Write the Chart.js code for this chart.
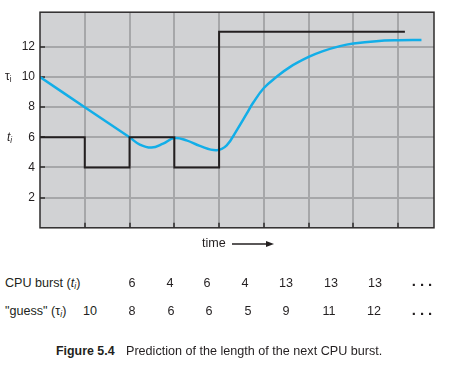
<!DOCTYPE html>
<html><head><meta charset="utf-8">
<script src="https://cdn.jsdelivr.net/npm/chart.js"></script>
<style>
html,body{margin:0;padding:0;background:#fff;}
#wrap{position:relative;width:454px;height:366px;overflow:hidden;font-family:"Liberation Sans",Arial,Helvetica,sans-serif;color:#231f20;}
#c{position:absolute;left:0;top:0;}
.a{position:absolute;white-space:nowrap;line-height:1;}
.m{transform:translate(-50%,-50%);}
.l{transform:translate(0,-50%);}
.s{font-size:12.6px;}
sub{font-size:68%;vertical-align:-0.3em;line-height:0;}
</style></head>
<body>
<div id="wrap">
<canvas id="c" width="454" height="240"></canvas>
</div>
<script>
// ---- data ----
const burstTimes = [0, 1, 2, 3, 4, 5, 6];
const bursts = [6, 4, 6, 4, 13, 13, 13];
const burstLineEnd = 8.15;
const guesses = [10, 8, 6, 6, 5, 9, 11, 12];
const curveX = [0, 1, 2, 2.23, 2.49, 2.75, 3, 3.27, 3.57, 3.94, 4.17, 4.39, 4.61, 4.76, 5, 5.28, 5.58, 6, 6.32, 6.7, 7, 7.51, 8, 8.52];
const curveY = [10, 8, 6.0, 5.52, 5.32, 5.58, 5.95, 5.8, 5.43, 5.15, 5.47, 6.45, 7.54, 8.29, 9.27, 10.0, 10.66, 11.33, 11.72, 12.05, 12.22, 12.38, 12.44, 12.46];
const yTicks = [2, 4, 6, 8, 10, 12];
const xTicks = [1, 2, 3, 4, 5, 6, 7, 8];
const rowLabelBurst = 'CPU burst (<i>t<sub>i</sub></i>)';
const rowLabelGuess = '"guess" (τ<sub><i>i</i></sub>)';
const xTitle = 'time';
const captionNum = 'Figure 5.4';
const captionText = 'Prediction of the length of the next CPU burst.';

// ---- layout (positions only) ----
const burstCols = [132, 170, 207, 245, 286, 331, 375];
const guessCols = [90, 132, 171, 209, 248, 286, 329, 374];
const dotsX = 422;

const burstPts = burstTimes.map((t, i) => ({x: t, y: bursts[i]}));
burstPts.push({x: burstLineEnd, y: bursts[bursts.length - 1]});
const curvePts = curveX.map((x, i) => ({x: x, y: curveY[i]}));

const frame = {
  id: 'frame',
  beforeDraw(chart) {
    const {ctx, chartArea: a} = chart;
    ctx.save();
    ctx.fillStyle = '#d1d2d4';
    ctx.fillRect(a.left, a.top, a.right - a.left, a.bottom - a.top);
    ctx.restore();
  },
  beforeDatasetsDraw(chart) {
    const {ctx, chartArea: a, scales} = chart;
    ctx.save();
    ctx.strokeStyle = '#2e2c2d';
    ctx.lineWidth = 1.5;
    ctx.beginPath();
    yTicks.forEach(v => { const y = Math.round(scales.y.getPixelForValue(v)); ctx.moveTo(a.left, y); ctx.lineTo(a.left + 5, y); });
    xTicks.forEach(v => { const x = Math.round(scales.x.getPixelForValue(v)); ctx.moveTo(x, a.bottom); ctx.lineTo(x, a.bottom - 5); });
    ctx.stroke();
    ctx.restore();
  },
  afterDraw(chart) {
    const {ctx, chartArea: a} = chart;
    ctx.save();
    ctx.strokeStyle = '#2e2c2d';
    ctx.lineWidth = 1.5;
    ctx.strokeRect(a.left, a.top, a.right - a.left, a.bottom - a.top);
    ctx.restore();
  }
};

new Chart(document.getElementById('c'), {
  type: 'scatter',
  data: {
    datasets: [
      {data: burstPts, showLine: true, stepped: 'before', borderColor: '#231f20', borderWidth: 2, pointRadius: 0, fill: false},
      {data: curvePts, showLine: true, tension: 0.4, borderColor: '#12aee8', borderWidth: 2.5, pointRadius: 0, fill: false}
    ]
  },
  options: {
    responsive: false,
    animation: false,
    layout: {padding: {left: 0, top: 10, right: 20, bottom: 0}},
    plugins: {legend: {display: false}, tooltip: {enabled: false}},
    scales: {
      x: {
        type: 'linear', min: 0, max: 8.8,
        afterBuildTicks: s => { s.ticks = xTicks.map(v => ({value: v})); },
        afterFit: s => { s.height = 11; },
        ticks: {display: false},
        grid: {color: '#a6a7a9', lineWidth: 2, drawTicks: false},
        border: {display: false}
      },
      y: {
        type: 'linear', min: 0, max: 14.3,
        afterBuildTicks: s => { s.ticks = yTicks.map(v => ({value: v})); },
        afterFit: s => { s.width = 40; },
        ticks: {padding: 5, color: '#231f20', font: {family: '"Liberation Sans", Arial, sans-serif', size: 12}},
        grid: {color: '#a6a7a9', lineWidth: 2, drawTicks: false},
        border: {display: false}
      }
    }
  },
  plugins: [frame]
});

// ---- HTML text ----
const wrap = document.getElementById('wrap');
function add(html, x, y, cls, extra) {
  const d = document.createElement('div');
  d.className = 'a ' + cls;
  d.innerHTML = html;
  d.style.left = x + 'px';
  d.style.top = y + 'px';
  if (extra) Object.assign(d.style, extra);
  wrap.appendChild(d);
  return d;
}
add('τ<sub>i</sub>', 5, 76, 'l', {fontSize: '12px'});
add('<i>t<sub>i</sub></i>', 7, 137, 'l', {fontSize: '12px'});
add(xTitle, 202, 243, 'l s');
const svgNS = 'http://www.w3.org/2000/svg';
const arr = document.createElementNS(svgNS, 'svg');
arr.setAttribute('width', '46'); arr.setAttribute('height', '10');
arr.style.position = 'absolute'; arr.style.left = '231px'; arr.style.top = '238.5px';
arr.innerHTML = '<line x1="1" y1="5" x2="38" y2="5" stroke="#231f20" stroke-width="1.3"/><polygon points="35,2 43,5 35,8" fill="#231f20"/>';
wrap.appendChild(arr);

add(rowLabelBurst, 5, 283, 'l s');
add(rowLabelGuess, 5, 311, 'l s');
bursts.forEach((v, i) => add(String(v), burstCols[i], 283, 'm s'));
guesses.forEach((v, i) => add(String(v), guessCols[i], 311, 'm s'));
add('<b>...</b>', dotsX + 2, 280, 'm', {fontSize: '15px', letterSpacing: '4px'});
add('<b>...</b>', dotsX + 2, 309, 'm', {fontSize: '15px', letterSpacing: '4px'});
add('<b>' + captionNum + '</b>', 56, 351, 'l', {fontSize: '12.4px'});
add(captionText, 126, 351, 'l', {fontSize: '12.6px'});
</script>
</body></html>
